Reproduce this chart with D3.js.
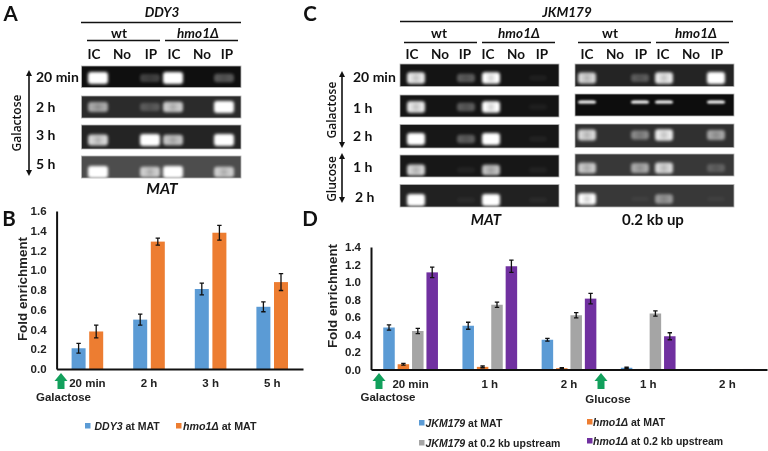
<!DOCTYPE html>
<html><head><meta charset="utf-8">
<script src="https://cdn.jsdelivr.net/npm/d3@7/dist/d3.min.js"></script>
<style>
html,body{margin:0;padding:0;background:#fff}
svg{display:block;filter:blur(0.35px)}
.g{font-family:Lato,sans-serif;font-weight:700;fill:#111}
.c{font-family:"Liberation Sans",sans-serif;font-weight:700;fill:#222}
.n{font-family:"Open Sans",sans-serif;font-weight:600;fill:#111}
</style></head><body>
<svg id="s" width="768" height="451" viewBox="0 0 768 451"></svg>
<script>
// ---------- data ----------
const laneNames = ["IC","No","IP","IC","No","IP"];

const gelATimes = ["20 min","2 h","3 h","5 h"];
const gelABands = [[1,0,.4,1,0,.5],[.72,0,.42,.82,0,1],[.85,0,1,.8,0,1],[1,0,.8,1,0,.8]];
const gelAGround = [.06,.17,.14,.3];

const gelCTimes = ["20 min","1 h","2 h","1 h","2 h"];
const gelCMatBands = [[.9,0,.5,.95,0,.08],[.9,0,.5,.95,0,.06],[1,0,.5,1,0,.08],[.85,0,.1,.8,0,.08],[1,0,.05,1,0,.04]];
const gelCMatGround = [.08,.08,.09,.09,.13];
const gelCUpBands = [[.85,0,.45,.9,0,1],[.9,0,.85,.95,0,.9],[.85,0,.6,.9,0,.7],[.8,0,.7,.85,0,.4],[.95,0,.02,.65,0,.02]];
const gelCUpGround = [.14,.05,.19,.22,.22];

const chartBGroups = ["20 min","2 h","3 h","5 h"];
const ddy3Mat = [.21,.50,.81,.63];
const ddy3MatErr = [.05,.055,.06,.05];
const hmoMatB = [.38,1.29,1.38,.88];
const hmoMatBErr = [.065,.035,.075,.085];

const chartDGroups = ["20 min","1 h","2 h","1 h","2 h"];
const jkmMat = [.48,.50,.34,.02,.006];
const jkmMatErr = [.03,.04,.015,.008,0];
const hmoMatD = [.06,.03,.015,.006,.006];
const hmoMatDErr = [.01,.01,.005,0,0];
const jkmUp = [.44,.74,.62,.64,.006];
const jkmUpErr = [.03,.03,.03,.03,0];
const hmoUp = [1.11,1.18,.81,.38,.006];
const hmoUpErr = [.06,.07,.06,.04,0];

const yTicksB = [0,.2,.4,.6,.8,1,1.2,1.4,1.6];
const yTicksD = [0,.2,.4,.6,.8,1,1.2,1.4];
const blue="#5b9bd5", orange="#ed7d31", gray="#a5a5a5", purple="#7030a0", green="#12a05c";

// ---------- helpers ----------
const svg = d3.select("#s");
const defs = svg.append("defs");
[["b1",1.7],["b2",.9],["b3",2.2]].forEach(([id,sd])=>defs.append("filter").attr("id",id)
  .attr("x","-60%").attr("y","-100%").attr("width","220%").attr("height","300%")
  .append("feGaussianBlur").attr("stdDeviation",sd));
const txt=(x,y,s,o={})=>{const t=svg.append("text").attr("x",x).attr("y",y).attr("class",o.cls||"g")
  .attr("font-size",o.size||13).attr("text-anchor",o.anchor||"middle").text(s);
  if(o.italic)t.attr("font-style","italic");
  if(o.rot!=null)t.attr("transform",`rotate(${o.rot} ${x} ${y})`);
  return t;};
const rule=(x1,x2,y,w=1.4)=>svg.append("line").attr("x1",x1).attr("x2",x2).attr("y1",y).attr("y2",y).attr("stroke","#111").attr("stroke-width",w);

function gel(cfg){
  cfg.bands.forEach((row,r)=>{
    const [y0,y1]=cfg.rows[r], by=cfg.bandY[r];
    const lv=Math.round(cfg.ground[r]*255);
    svg.append("rect").attr("x",cfg.x0).attr("width",cfg.x1-cfg.x0).attr("y",y0).attr("height",y1-y0)
      .attr("fill",d3.rgb(lv,lv,lv)).attr("stroke","#b5b5b5").attr("stroke-width",.8);
    const clip="c"+cfg.id+r;
    defs.append("clipPath").attr("id",clip).append("rect").attr("x",cfg.x0).attr("width",cfg.x1-cfg.x0).attr("y",y0).attr("height",y1-y0);
    const g=svg.append("g").attr("clip-path",`url(#${clip})`);
    const thin=cfg.thinRow===r;
    row.forEach((v,i)=>{
      if(!v)return;
      const x=cfg.laneX[i], w=cfg.bandW, h=thin?3:(5+7*Math.min(v,1));
      g.append("rect").attr("x",x-w/2).attr("y",by-h/2).attr("width",w).attr("height",h).attr("rx",3)
        .attr("fill","#fff").attr("opacity",thin?1:Math.min(1,v*v*1.05+.04)).attr("filter",thin?"url(#b2)":"url(#b1)");
      if(!thin&&v>=.4&&v<1)
        g.append("rect").attr("x",x-w*.12).attr("y",by-h*.3).attr("width",w*.24).attr("height",h*.6)
          .attr("fill","#000").attr("opacity",.22).attr("filter","url(#b3)");
    });
  });
  cfg.laneX.forEach((x,i)=>txt(cfg.labelX[i],cfg.labelY,laneNames[i],{size:13.5}));
}

// ---------- panel letters ----------
[["A",10.5,21],["B",9,226],["C",310,20.5],["D",310,226]].forEach(([s,x,y])=>txt(x,y,s,{size:20.5}));

// ---------- panel A ----------
txt(162,17,"DDY3",{size:13.5,italic:true});
rule(81,241,22.5);
txt(119,37.5,"wt",{size:13.5});
txt(198,37.5,"hmo1Δ",{size:13.5,italic:true});
rule(87,160,40.5); rule(165,238,40.5);
gel({id:"a",x0:81.5,x1:241,rows:[[66,87.5],[96,118],[125,149],[156,178]],bandY:[78,107,140,172],
  ground:gelAGround,bands:gelABands,bandW:20,
  laneX:[98,122,150,173,198,224],labelX:[94,122,151,174,202,227],labelY:59});
gelATimes.forEach((t,i)=>txt(36,[82,112,140,169][i],t,{size:14,anchor:"start"}));
txt(21,123,"Galactose",{size:12,rot:-90,cls:"n"});
const arrow=(x,y1,y2)=>{
  svg.append("line").attr("x1",x).attr("x2",x).attr("y1",y1+3).attr("y2",y2-3).attr("stroke","#111").attr("stroke-width",1.6);
  svg.append("path").attr("d",d3.line()([[x-3,y1+6],[x,y1],[x+3,y1+6]])+"Z").attr("fill","#111");
  svg.append("path").attr("d",d3.line()([[x-3,y2-6],[x,y2],[x+3,y2-6]])+"Z").attr("fill","#111");
};
arrow(29,70,176);
txt(162,193.5,"MAT",{size:15.5,italic:true});

// ---------- panel C ----------
txt(567,17,"JKM179",{size:13.5,italic:true});
rule(400,733,21.5);
txt(439,37.5,"wt",{size:13.5}); txt(519,37.5,"hmo1Δ",{size:13.5,italic:true});
txt(610,37.5,"wt",{size:13.5}); txt(696,37.5,"hmo1Δ",{size:13.5,italic:true});
rule(404,477,42.5); rule(482,555,42.5); rule(578,651,42.5); rule(656,729,42.5);
gel({id:"m",x0:400,x1:559,rows:[[64,86.5],[95,117],[124.5,148],[155,177],[184.5,207]],bandY:[78,107,139,170,200],
  ground:gelCMatGround,bands:gelCMatBands,bandW:18,
  laneX:[416,440,466,491,515,538],labelX:[412,440,465,488,516,542],labelY:59});
gel({id:"u",x0:575,x1:734,rows:[[64,86.5],[94,116],[124,147.5],[154,176],[184.5,207]],bandY:[78,102,135,168,199],thinRow:1,
  ground:gelCUpGround,bands:gelCUpBands,bandW:18,
  laneX:[587,612,640,664,690,716],labelX:[587,615,641,663,691,717],labelY:59});
gelCTimes.forEach((t,i)=>txt(i==4?355:353,[82,113,141,172,202][i],t,{size:14,anchor:"start"}));
arrow(342,71,148); arrow(342,153,203);
txt(336,110,"Galactose",{size:12,rot:-90,cls:"n"});
txt(336,179,"Glucose",{size:12,rot:-90,cls:"n"});
txt(486,224.5,"MAT",{size:15,italic:true});
txt(653,224.5,"0.2 kb up",{size:15});

// ---------- bar charts ----------
function chart(cfg){
  const x=d3.scaleBand().domain(d3.range(cfg.groups.length)).range(cfg.xr).paddingInner(0).paddingOuter(0);
  const y=d3.scaleLinear().domain([0,cfg.ticks[cfg.ticks.length-1]]).range(cfg.yr);
  const n=cfg.series.length;
  const sub=d3.scaleBand().domain(d3.range(n)).range([x.bandwidth()/2-cfg.step*n/2,x.bandwidth()/2+cfg.step*n/2]);
  cfg.series.forEach((s,k)=>{
    const g=svg.append("g");
    const bx=i=>x(i)+sub(k)+(cfg.step-cfg.barW)/2;
    g.selectAll("rect").data(s.v).join("rect").attr("x",(d,i)=>bx(i)).attr("width",cfg.barW)
      .attr("y",d=>y(d)).attr("height",d=>y(0)-y(d)).attr("fill",s.c);
    const cx=i=>bx(i)+cfg.barW/2;
    s.e.forEach((e,i)=>{ if(!e)return;
      const t=y(s.v[i]+e), b=y(s.v[i]-e);
      g.append("path").attr("d",`M${cx(i)-2.2},${t}H${cx(i)+2.2}M${cx(i)},${t}V${b}M${cx(i)-2.2},${b}H${cx(i)+2.2}`)
       .attr("fill","none").attr("stroke","#111").attr("stroke-width",1.3);
    });
  });
  const ya=svg.append("g").attr("transform",`translate(${cfg.xr[0]},0)`)
    .call(d3.axisLeft(y).tickValues(cfg.ticks).tickSize(0).tickPadding(10).tickFormat(d3.format(".1f")));
  ya.select(".domain").attr("stroke","#111").attr("stroke-width",2);
  ya.selectAll("text").attr("class","c").attr("font-size",11.5);
  const xa=svg.append("g").attr("transform",`translate(0,${cfg.yr[0]})`)
    .call(d3.axisBottom(x).tickSize(0).tickPadding(cfg.xPad).tickFormat(i=>cfg.groups[i]));
  xa.select(".domain").attr("stroke","#111").attr("stroke-width",2);
  xa.selectAll("text").attr("class","c").attr("font-size",11.5);
  txt(cfg.titleX,cfg.titleY,"Fold enrichment",{cls:"c",size:13.4,rot:-90});
}
chart({groups:chartBGroups,ticks:yTicksB,xr:[56.6,303],yr:[369,211],step:17.6,barW:14,xPad:10,titleX:27,titleY:289,
  series:[{v:ddy3Mat,e:ddy3MatErr,c:blue},{v:hmoMatB,e:hmoMatBErr,c:orange}]});
chart({groups:chartDGroups,ticks:yTicksD,xr:[371,767],yr:[369.5,247],step:14.4,barW:11.5,xPad:10,titleX:337,titleY:296,
  series:[{v:jkmMat,e:jkmMatErr,c:blue},{v:hmoMatD,e:hmoMatDErr,c:orange},{v:jkmUp,e:jkmUpErr,c:gray},{v:hmoUp,e:hmoUpErr,c:purple}]});

// ---------- green arrows + annotations ----------
const up=(x,y)=>svg.append("path").attr("fill",green)
  .attr("d",d3.line()([[x,y],[x+6.5,y+8],[x+3.5,y+8],[x+3.5,y+16],[x-3.5,y+16],[x-3.5,y+8],[x-6.5,y+8]])+"Z");
up(61,373); up(379,373); up(601,373);
txt(63.5,401,"Galactose",{cls:"c",size:11.5});
txt(388,400.5,"Galactose",{cls:"c",size:11.5});
txt(608,403,"Glucose",{cls:"c",size:11.5});

// ---------- legends ----------
const leg=(x,y,c,it,rest,size=10.5,gap=4)=>{
  svg.append("rect").attr("x",x).attr("y",y-7).attr("width",5.5).attr("height",5.5).attr("fill",c);
  const t=svg.append("text").attr("x",x+5.5+gap).attr("y",y).attr("class","c").attr("font-size",size);
  t.append("tspan").attr("font-style","italic").text(it);
  t.append("tspan").text(rest);
};
leg(85,430,blue,"DDY3"," at MAT");
leg(176,430,orange,"hmo1Δ"," at MAT",10.7,1.5);
leg(419,427,blue,"JKM179"," at MAT",10.5,1);
leg(587,426,orange,"hmo1Δ"," at MAT",10.5,.5);
leg(419,447,gray,"JKM179"," at 0.2 kb upstream",10.5,1);
leg(587,445,purple,"hmo1Δ"," at 0.2 kb upstream",10.5,.5);
</script></body></html>
